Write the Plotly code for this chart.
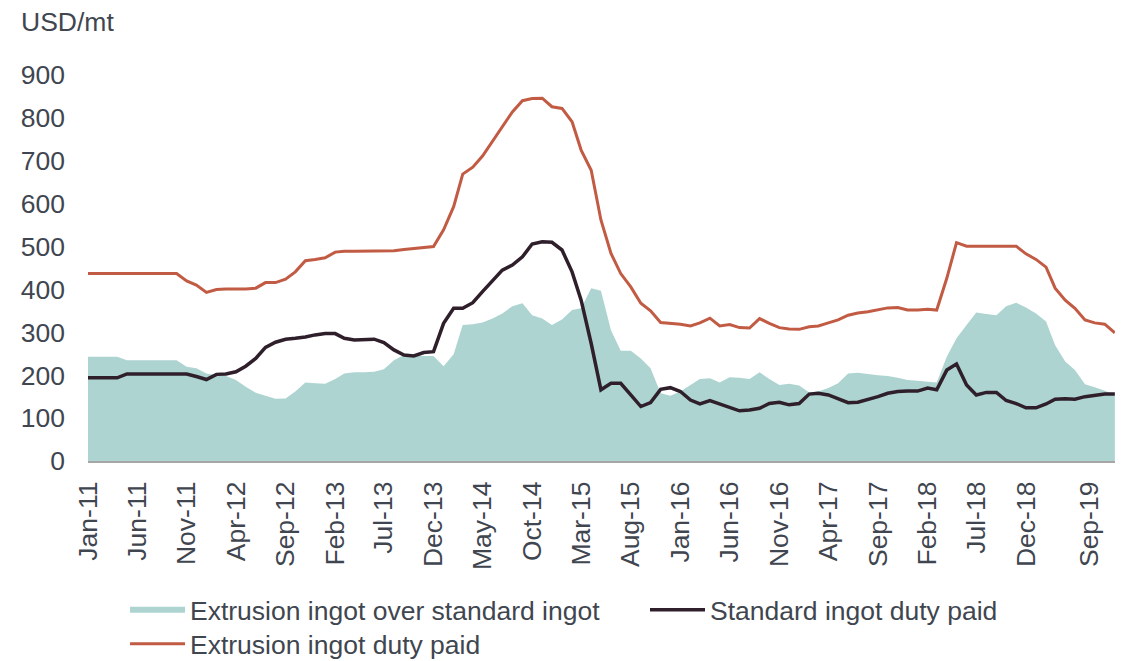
import pandas as pd
import plotly.graph_objects as go

# =========================
# DATA (monthly, Jan-11 .. Sep-19)
# =========================

months = pd.date_range("2011-01-01", "2019-09-01", freq="MS")

extrusion_duty_paid = [
    437, 437, 437, 437, 437, 437, 437, 437, 437, 437,
    420, 410, 393, 400, 401, 401, 401, 403, 416, 416,
    424, 441, 467, 470, 474, 487, 489, 489, 489, 489,
    489, 490, 493, 495, 497, 500, 539, 593, 669, 685,
    711, 745, 779, 814, 840, 845, 846, 826, 822, 791,
    725, 678, 562, 484, 437, 406, 368, 350, 323, 321,
    319, 315, 322, 333, 315, 318, 311, 310, 332, 321,
    311, 308, 307, 313, 315, 322, 329, 340, 345, 348,
    352, 357, 358, 352, 352, 354, 352, 426, 509, 501,
    501, 501, 501, 501, 501, 483, 470, 452, 403, 375,
    356, 329, 322, 319, 299,
]

standard_duty_paid = [
    194, 194, 194, 194, 203, 203, 203, 203, 203, 203,
    203, 197, 190, 202, 203, 208, 221, 239, 265, 277,
    284, 286, 289, 294, 297, 297, 286, 282, 282, 284,
    276, 259, 247, 245, 253, 255, 321, 356, 356, 369,
    395, 422, 445, 457, 476, 506, 511, 510, 492, 441,
    375, 274, 166, 181, 181, 154, 127, 136, 167, 171,
    162, 142, 133, 141, 133, 123, 117, 119, 123, 134,
    137, 131, 134, 156, 158, 154, 146, 136, 137, 143,
    150, 158, 162, 163, 163, 170, 166, 212, 226, 177,
    154, 160, 160, 141, 134, 124, 124, 133, 144, 145,
    144, 150, 152, 156, 156,
]

extrusion_premium = [
    243, 243, 243, 243, 235, 235, 235, 235, 235, 235,
    220, 216, 204, 200, 198, 189, 173, 159, 152, 145,
    146, 162, 183, 181, 180, 191, 204, 207, 207, 208,
    214, 235, 247, 245, 245, 245, 221, 249, 317, 319,
    323, 332, 344, 361, 368, 340, 332, 317, 330, 352,
    356, 403, 397, 305, 257, 257, 239, 216, 158, 152,
    162, 177, 191, 193, 183, 195, 194, 191, 207, 191,
    177, 180, 176, 160, 162, 170, 181, 204, 206, 203,
    200, 198, 194, 189, 187, 185, 183, 243, 286, 317,
    346, 343, 340, 361, 369, 358, 344, 325, 270, 232,
    212, 179, 172, 164, 154,
]

tick_labels = [
    "Jan-11", "Jun-11", "Nov-11", "Apr-12", "Sep-12", "Feb-13", "Jul-13",
    "Dec-13", "May-14", "Oct-14", "Mar-15", "Aug-15", "Jan-16", "Jun-16",
    "Nov-16", "Apr-17", "Sep-17", "Feb-18", "Jul-18", "Dec-18", "Sep-19",
]
tick_dates = list(pd.to_datetime(tick_labels[:-1], format="%b-%y"))
# the source chart draws its last label a little inside the right edge
tick_dates.append(pd.Timestamp("2019-06-14"))

TEXT = "#3f4650"
FONT = "Liberation Sans, Arial, sans-serif"
FS = 26.5

# figure size and plot area in pixels (page body adds an 8px offset)
W, H = 1121, 653
L, R, T, B = 80, 14, 67, 200
PW = W - L - R
PH = H - T - B

# =========================
# FIGURE
# =========================

fig = go.Figure()

fig.add_trace(go.Scatter(
    x=months, y=extrusion_premium,
    name="Extrusion ingot over standard ingot",
    mode="none", fill="tozeroy", fillcolor="#add4d1",
    legend="legend",
))

fig.add_trace(go.Scatter(
    x=months, y=standard_duty_paid,
    name="Standard ingot duty paid",
    mode="lines", line=dict(color="#2f1f2b", width=3.5),
    legend="legend2",
))

fig.add_trace(go.Scatter(
    x=months, y=extrusion_duty_paid,
    name="Extrusion ingot duty paid",
    mode="lines", line=dict(color="#c25b43", width=3),
    legend="legend3",
))

fig.update_xaxes(
    range=[months[0], pd.Timestamp("2019-09-01 12:00")],
    tickvals=tick_dates,
    ticktext=tick_labels,
    tickangle=-90,
    ticks="",
    ticklabelstandoff=8,
    showgrid=False,
    showline=True,
    linecolor="#a6a6a6",
    linewidth=2,
    tickfont=dict(size=FS, color=TEXT, family=FONT),
)

fig.update_yaxes(
    range=[0, 900],
    tickvals=[0, 100, 200, 300, 400, 500, 600, 700, 800, 900],
    ticks="",
    showgrid=False,
    zeroline=False,
    showline=False,
    ticklabelstandoff=22,
    tickfont=dict(size=FS, color=TEXT, family=FONT),
)

legend_style = dict(
    orientation="v",
    yanchor="top",
    xanchor="left",
    font=dict(size=FS, color=TEXT, family=FONT),
    bgcolor="rgba(0,0,0,0)",
    itemwidth=55,
)


def legend_y(top_px):
    return -(top_px - T - PH) / PH


fig.update_layout(
    width=W,
    height=H,
    plot_bgcolor="white",
    paper_bgcolor="white",
    font=dict(family=FONT, color=TEXT),
    margin=dict(l=L, r=R, t=T, b=B, autoexpand=False),
    showlegend=True,
    legend=dict(x=(117 - L) / PW, y=legend_y(578), **legend_style),
    legend2=dict(x=(637 - L) / PW, y=legend_y(578), **legend_style),
    legend3=dict(x=(117 - L) / PW, y=legend_y(612), **legend_style),
    annotations=[dict(
        text="USD/mt",
        xref="paper", yref="paper",
        x=(11 - L) / PW, y=1 + (T - 14) / PH,
        xanchor="left", yanchor="middle",
        showarrow=False,
        font=dict(size=FS, color=TEXT, family=FONT),
    )],
)

fig.write_html("out.html")
